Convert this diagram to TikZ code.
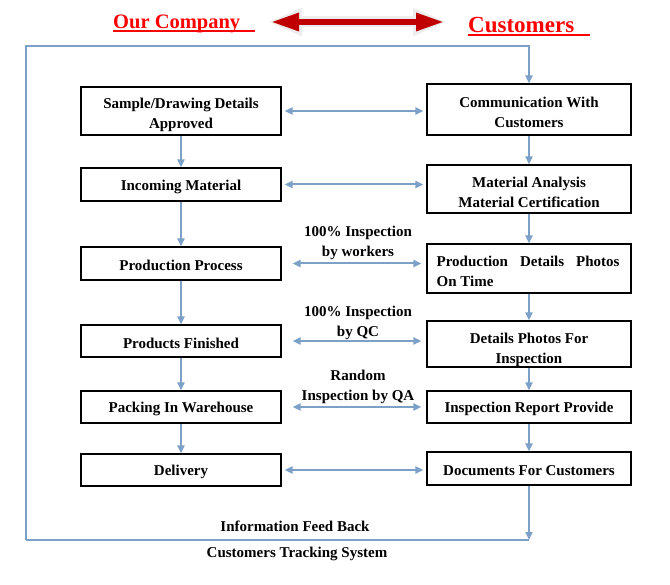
\documentclass[tikz,border=0pt]{standalone}
\usepackage{fontspec}
\setmainfont{Liberation Serif}
\usetikzlibrary{arrows.meta}
\definecolor{lnblue}{RGB}{124,160,200}
\definecolor{hdred}{RGB}{255,0,0}
\definecolor{arrred}{RGB}{192,0,0}
\tikzset{
  box/.style={draw=black, line width=1.1pt, inner sep=0pt, align=center},
  lbox/.style={box, minimum width=200pt},
  rbox/.style={box, minimum width=204pt},
  tip/.tip={Triangle[length=8pt,width=7pt]},
  flow/.style={draw=lnblue, line width=2pt, -tip},
  flowline/.style={draw=lnblue, line width=2pt},
  dflow/.style={draw=lnblue, line width=2pt, tip-tip},
  lbl/.style={font=\fontsize{15}{20}\selectfont\bfseries, align=left, inner sep=0pt},
  clbl/.style={lbl, align=center},
  head/.style={text=hdred, inner sep=0pt, anchor=base west}
}
\begin{document}
\begin{tikzpicture}[x=1pt,y=-1pt]
\useasboundingbox (0,0) rectangle (670,585);
% header
\node[head, font=\fontsize{20.5}{24}\selectfont\bfseries] (oc) at (113,29) {Our Company};
\draw[hdred, line width=1.2pt] (113,31) -- (255,31);
\node[head, font=\fontsize{23}{27}\selectfont\bfseries] (cu) at (468,33) {Customers};
\draw[hdred, line width=1.2pt] (468,35) -- (590,35);
\coordinate (ha) at (268,22);
\coordinate (hb) at (447,22);
\draw[black!7, line width=11pt, {Triangle[length=34pt,width=26pt]}-{Triangle[length=34pt,width=26pt]}] (ha) -- (hb);
\draw[arrred, line width=6pt, {Triangle[length=28pt,width=17pt]}-{Triangle[length=28pt,width=17pt]}] ([xshift=3pt]ha) -- ([xshift=-3pt]hb);
% boxes
\node[lbox, minimum height=48pt] (l1) at (181,111) {};
\node[rbox, minimum height=51pt] (r1) at (529,109.5) {};
\node[lbox, minimum height=33pt] (l2) at (181,184.5) {};
\node[rbox, minimum height=48pt] (r2) at (529,189) {};
\node[lbox, minimum height=33pt] (l3) at (181,263.5) {};
\node[rbox, minimum height=49pt] (r3) at (529,268.5) {};
\node[lbox, minimum height=32pt] (l4) at (181,341) {};
\node[rbox, minimum height=46pt] (r4) at (529,344) {};
\node[lbox, minimum height=32pt] (l5) at (181,407) {};
\node[rbox, minimum height=32pt] (r5) at (529,407) {};
\node[lbox, minimum height=32pt] (l6) at (181,470) {};
\node[rbox, minimum height=33pt] (r6) at (529,468.5) {};
% box texts
\node[clbl] (l1t) at ([yshift=-3.5pt]l1.center) {Sample/Drawing Details\\Approved};
\node[clbl] (r1t) at ([yshift=-3pt]r1.center) {Communication With\\Customers};
\node[clbl] (l2t) at ([yshift=-2pt]l2.center) {Incoming Material};
\node[clbl] (r2t) at ([yshift=-3pt]r2.center) {Material Analysis\\Material Certification};
\node[clbl] (l3t) at ([yshift=-2pt]l3.center) {Production Process};
\node[lbl, anchor=west] (r3t) at ([xshift=10pt,yshift=-3pt]r3.west) {Production\hspace{0.8em}Details\hspace{0.8em}Photos\\On Time};
\node[clbl] (l4t) at ([yshift=-2pt]l4.center) {Products Finished};
\node[clbl] (r4t) at ([yshift=-5.5pt]r4.center) {Details Photos For\\Inspection};
\node[clbl] (l5t) at ([yshift=-2pt]l5.center) {Packing In Warehouse};
\node[clbl] (r5t) at ([yshift=-2pt]r5.center) {Inspection Report Provide};
\node[clbl] (l6t) at ([yshift=-2pt]l6.center) {Delivery};
\node[clbl] (r6t) at ([yshift=-2pt]r6.center) {Documents For Customers};
% vertical flows
\foreach \a/\b in {l1/l2,l2/l3,l3/l4,l4/l5,l5/l6,r1/r2,r2/r3,r3/r4,r4/r5,r5/r6}
  \draw[flow] (\a.south) -- (\b.north);
% horizontal double arrows
\draw[dflow] ([xshift=3pt]l1.east) -- ([xshift=-3pt]l1.east -| r1.west);
\draw[dflow] ([xshift=3pt]l2.east) -- ([xshift=-3pt]l2.east -| r2.west);
\draw[dflow] ([xshift=11pt]l3.east) -- ([xshift=-5pt]l3.east -| r3.west);
\draw[dflow] ([xshift=11pt]l4.east) -- ([xshift=-5pt]l4.east -| r4.west);
\draw[dflow] ([xshift=11pt]l5.east) -- ([xshift=-5pt]l5.east -| r5.west);
\draw[dflow] ([xshift=3pt]l6.east) -- ([xshift=-3pt]l6.east -| r6.west);
% labels
\node[clbl] (t3) at (358,243) {100\% Inspection\\by workers};
\node[clbl] (t4) at (358,323) {100\% Inspection\\by QC};
\node[clbl] (t5) at (358,387) {Random\\Inspection by QA};
% feedback loop
\coordinate (tl) at (26,46);
\coordinate (bl) at (26,540);
\draw[flow] (bl) -- (tl) -| (r1.north);
\draw[flow] (r6.south) -- (r6.south |- bl);
\draw[flowline] (r6.south |- bl) -- (bl);
\node[clbl] (fb) at (295,526) {Information Feed Back};
\node[clbl] (ts) at (297,554) {Customers Tracking System};
\end{tikzpicture}
\end{document}
